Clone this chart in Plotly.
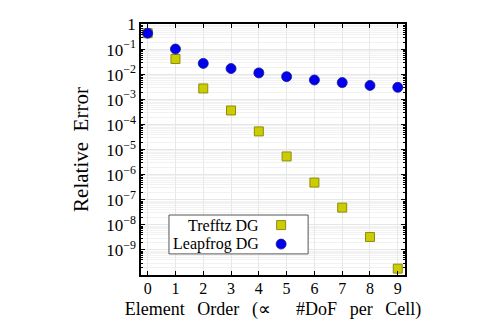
import plotly.graph_objects as go

orders = [0, 1, 2, 3, 4, 5, 6, 7, 8, 9]
trefftz_err = [0.45, 0.042, 2.8e-3, 3.7e-4, 5.4e-5, 5.4e-6, 4.9e-7, 4.9e-8, 3.3e-9, 1.8e-10]
leapfrog_err = [0.45, 0.105, 0.028, 0.0174, 0.0117, 0.0083, 0.0061, 0.0048, 0.0037, 0.0031]
series_names = ["Trefftz DG", "Leapfrog DG"]

ytick_exp = [0, -1, -2, -3, -4, -5, -6, -7, -8, -9]
ytick_vals = [10.0 ** e for e in ytick_exp]
ytick_text = ["1" if e == 0 else "10<sup>\u2212%d</sup>" % (-e) for e in ytick_exp]

FONT = "Liberation Serif"
SP = "\u2002\u2009"
xtitle = "Element" + SP + "Order" + SP + "(\u221d" + SP + SP + "#DoF" + SP + "per" + SP + "Cell)"
ytitle = "Relative\u2002Error"

fig = go.Figure()
fig.add_trace(go.Scatter(
    x=orders, y=trefftz_err, mode="markers", name=" ",
    marker=dict(symbol="square", size=9, color="#cccc00",
                line=dict(color="#8c8c14", width=1)),
))
fig.add_trace(go.Scatter(
    x=orders, y=leapfrog_err, mode="markers", name=" ",
    marker=dict(symbol="circle", size=10, color="#0000ee",
                line=dict(color="#1a1a8c", width=0.8)),
))

# legend box and right-aligned labels (markers drawn by the plotly legend)
fig.add_shape(type="rect", xref="paper", yref="paper",
              x0=0.106, x1=0.633, y0=0.084, y1=0.239,
              line=dict(color="#555555", width=1), fillcolor="white", layer="above")
fig.add_annotation(xref="paper", yref="paper", x=0.455, y=0.199, text=series_names[0],
                   showarrow=False, xanchor="right", yanchor="middle",
                   font=dict(family=FONT, size=16, color="black"))
fig.add_annotation(xref="paper", yref="paper", x=0.455, y=0.123, text=series_names[1],
                   showarrow=False, xanchor="right", yanchor="middle",
                   font=dict(family=FONT, size=16, color="black"))

fig.update_layout(
    width=499, height=332,
    margin=dict(l=141, r=94, t=24, b=57),
    paper_bgcolor="white", plot_bgcolor="white",
    font=dict(family=FONT, size=15, color="black"),
    showlegend=True,
    legend=dict(x=0.455, y=0.161, xanchor="left", yanchor="middle",
                bgcolor="rgba(0,0,0,0)", borderwidth=0,
                font=dict(family=FONT, size=12), itemwidth=30),
    xaxis=dict(
        range=[-0.24, 9.26], tickmode="array", tickvals=orders,
        ticks="inside", ticklen=4, tickcolor="black", mirror="allticks",
        showline=True, linecolor="black", linewidth=1.5,
        showgrid=True, gridcolor="#e8e8e8", gridwidth=1, zeroline=False,
        tickfont=dict(family=FONT, size=16), automargin=False,
        ticklabelstandoff=-2,
        title=dict(text=xtitle, font=dict(family=FONT, size=18), standoff=6),
    ),
    yaxis=dict(
        type="log", range=[-10, 0.02], tickmode="array",
        tickvals=ytick_vals, ticktext=ytick_text,
        ticks="inside", ticklen=4, tickcolor="black", mirror="allticks",
        showline=True, linecolor="black", linewidth=1.5,
        showgrid=True, gridcolor="#e6e6e6", gridwidth=1, zeroline=False,
        tickfont=dict(family=FONT, size=17), automargin=False,
        ticklabelstandoff=0,
        minor=dict(dtick="D1", ticks="inside", ticklen=2, tickcolor="black",
                   showgrid=True, gridcolor="#f2f2f2", gridwidth=1),
        title=dict(text=ytitle, font=dict(family=FONT, size=21), standoff=12),
    ),
)

fig.write_html("out.html", config={"displayModeBar": False},
               post_script="document.body.style.margin='0';")
